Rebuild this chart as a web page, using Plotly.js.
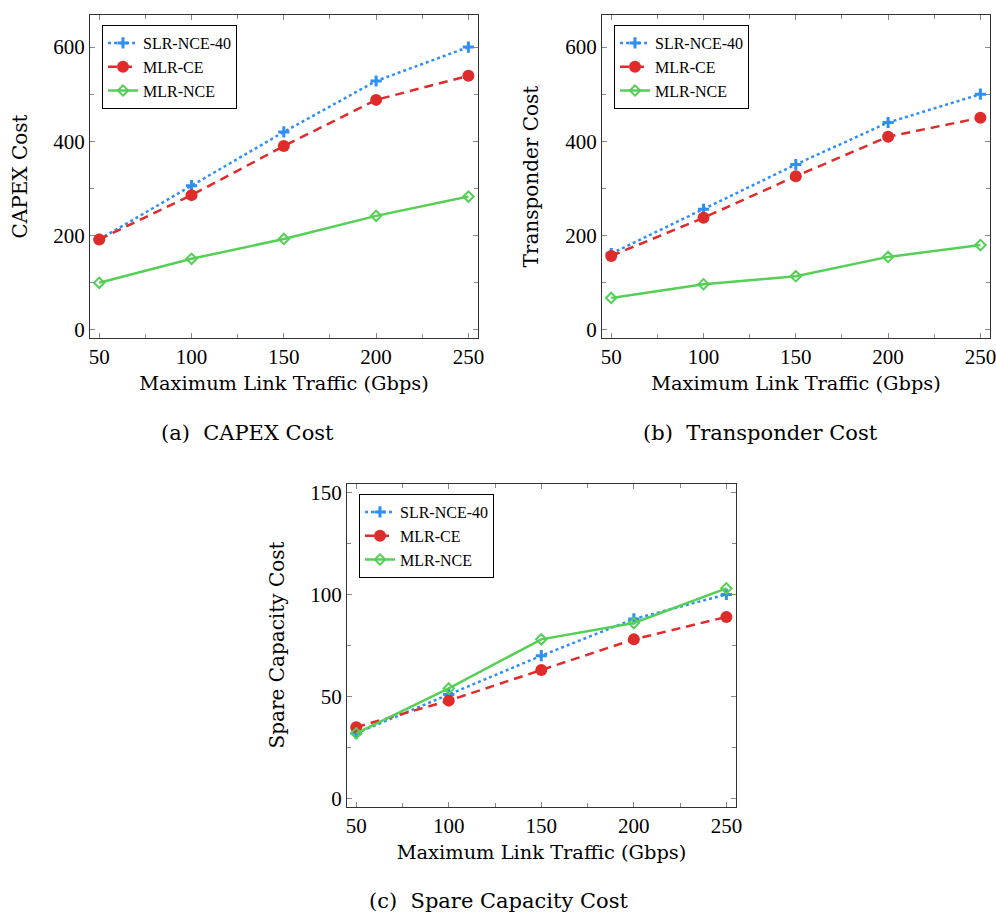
<!DOCTYPE html>
<html>
<head>
<meta charset="utf-8">
<script src="https://cdn.plot.ly/plotly-3.0.1.min.js"></script>
<style>html,body{margin:0;padding:0;background:#fff;} #chart{width:996px;height:915px;}</style>
</head>
<body>
<div id="chart"></div>
<script>
// ---- data ----
const traffic = [50, 100, 150, 200, 250];
const seriesNames = ["SLR-NCE-40", "MLR-CE", "MLR-NCE"];

const capexSLR = [192, 306, 420, 528, 600];
const capexMLRCE = [192, 286, 390, 488, 539];
const capexMLRNCE = [100, 151, 193, 242, 283];

const transpSLR = [162, 256, 351, 440, 500];
const transpMLRCE = [157, 238, 326, 410, 450];
const transpMLRNCE = [68, 97, 114, 155, 180];

const spareSLR = [32, 51, 70, 88, 100];
const spareMLRCE = [35, 48, 63, 78, 89];
const spareMLRNCE = [32, 54, 78, 86, 103];

const xTitle = "Maximum Link Traffic (Gbps)";
const yTitles = ["CAPEX Cost", "Transponder Cost", "Spare Capacity Cost"];
const captions = ["(a)  CAPEX Cost", "(b)  Transponder Cost", "(c)  Spare Capacity Cost"];

// ---- styles ----
const TFONT = "DejaVu Serif, serif";
const NFONT = "Liberation Serif, Times New Roman, serif";
const W = 996, H = 915;
const styles = [
  {color: "#2f8ff5", dash: "3px,3px", marker: {symbol: "cross-thin-open", size: 8, line: {width: 3, color: "#2f8ff5"}}},
  {color: "#e02b2b", dash: "9px,6px", marker: {symbol: "circle", size: 12, color: "#e02b2b"}},
  {color: "#55cf55", dash: "solid", marker: {symbol: "diamond-open", size: 8, color: "#55cf55", line: {width: 2, color: "#55cf55"}}}
];

const panels = [
  {vals: [capexSLR, capexMLRCE, capexMLRNCE], px: [90, 478], py: [15, 338], yr: [-17, 668], ydt: 200, yminor: 100, ytitle: yTitles[0], cap: captions[0], capx: 247, capy: 433, ytx: 20},
  {vals: [transpSLR, transpMLRCE, transpMLRNCE], px: [602, 990], py: [15, 338], yr: [-17, 668], ydt: 200, yminor: 100, ytitle: yTitles[1], cap: captions[1], capx: 760, capy: 433, ytx: 531},
  {vals: [spareSLR, spareMLRCE, spareMLRNCE], px: [347, 736], py: [484, 807], yr: [-4.1, 154.1], ydt: 50, yminor: 25, ytitle: yTitles[2], cap: captions[2], capx: 498, capy: 901, ytx: 276}
];

const traces = [];
const layout = {
  width: W, height: H,
  margin: {l: 0, r: 0, t: 0, b: 0},
  paper_bgcolor: "#fff", plot_bgcolor: "#fff",
  font: {family: NFONT, size: 20, color: "#000"},
  showlegend: true,
  annotations: [], shapes: []
};

panels.forEach((p, i) => {
  const sfx = i === 0 ? "" : String(i + 1);
  const legName = i === 0 ? "legend" : "legend" + (i + 1);
  p.vals.forEach((v, k) => {
    traces.push({
      x: traffic, y: v, name: seriesNames[k], type: "scatter", mode: "lines+markers",
      xaxis: "x" + sfx, yaxis: "y" + sfx, legend: legName,
      line: {color: styles[k].color, dash: styles[k].dash, width: 2.5},
      marker: Object.assign({color: styles[k].color}, styles[k].marker),
      cliponaxis: false
    });
  });
  const axCommon = {
    showgrid: false, zeroline: false,
    showline: true, linecolor: "#333", linewidth: 1, mirror: "allticks",
    ticks: "inside", ticklen: 5, tickcolor: "#888", tickwidth: 1,
    ticklabeloverflow: "allow",
    tickfont: {family: NFONT, size: 21, color: "#000"}
  };
  layout["xaxis" + sfx] = Object.assign({}, axCommon, {
    domain: [p.px[0] / W, p.px[1] / W], range: [45, 255.2],
    anchor: "y" + sfx, tick0: 50, dtick: 50,
    minor: {ticks: "inside", ticklen: 4, tickcolor: "#888", dtick: 25, tick0: 50, showgrid: false},
    title: {text: xTitle, font: {family: TFONT, size: 19.4}, standoff: 8}
  });
  layout["yaxis" + sfx] = Object.assign({}, axCommon, {
    domain: [1 - p.py[1] / H, 1 - p.py[0] / H], range: p.yr,
    anchor: "x" + sfx, tick0: 0, dtick: p.ydt,
    minor: {ticks: "inside", ticklen: 4, tickcolor: "#888", dtick: p.yminor, tick0: 0, showgrid: false},
    title: {text: ""}
  });
  layout.annotations.push({
    text: p.ytitle, xref: "paper", yref: "paper",
    x: p.ytx / W, y: 1 - ((p.py[0] + p.py[1]) / 2) / H,
    textangle: -90, showarrow: false, xanchor: "center", yanchor: "middle",
    font: {family: TFONT, size: 20}
  });
  layout.annotations.push({
    text: p.cap, xref: "paper", yref: "paper",
    x: p.capx / W, y: 1 - p.capy / H, showarrow: false,
    xanchor: "center", yanchor: "middle", font: {family: TFONT, size: 21}
  });
  layout[legName] = {
    x: (p.px[0] + 12) / W, y: 1 - (p.py[0] + 10) / H, xanchor: "left", yanchor: "top",
    bgcolor: "#fff", bordercolor: "#000", borderwidth: 1,
    font: {family: NFONT, size: 16, color: "#000"},
    tracegroupgap: 0, itemwidth: 30
  };
});

Plotly.newPlot("chart", traces, layout, {staticPlot: true});
</script>
</body>
</html>
